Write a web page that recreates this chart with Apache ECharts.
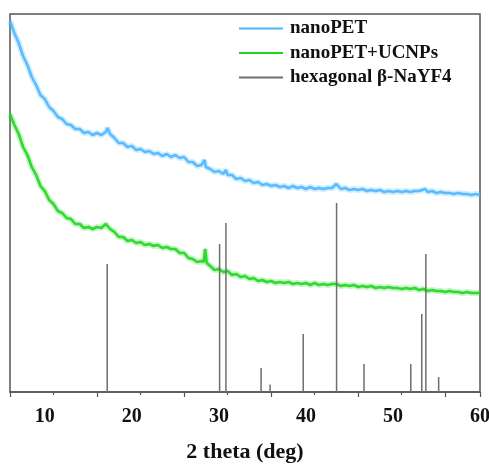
<!DOCTYPE html>
<html>
<head>
<meta charset="utf-8">
<script src="https://cdn.jsdelivr.net/npm/echarts@6/dist/echarts.min.js"></script>
<style>
  html, body { margin: 0; padding: 0; background: #fff; }
  #chart { width: 489px; height: 465px; }
</style>
</head>
<body>
<div id="chart"></div>
<script>
// XRD patterns (2θ in degrees, intensity in arbitrary units, curves offset vertically)
const seriesNames = ['nanoPET', 'nanoPET+UCNPs', 'hexagonal β-NaYF4'];

const nanoPET = [
  [6.0, 371], [6.5, 359], [7.0, 349], [7.5, 336], [8.0, 327], [8.5, 315], [9.0, 307], [9.5, 297],
  [10.0, 293], [10.5, 285], [11.0, 281], [11.5, 275], [12.0, 273], [12.5, 268], [13.0, 267], [13.5, 263],
  [14.0, 263], [14.5, 259], [15.0, 260], [15.5, 257], [16.0, 259], [16.5, 257], [17.0, 260], [17.2, 264],
  [17.5, 258], [18.0, 254], [18.5, 249], [19.0, 249], [19.5, 245], [20.0, 246], [20.5, 242], [21.0, 243],
  [21.5, 240], [22.0, 241], [22.5, 238], [23.0, 239], [23.5, 236], [24.0, 238], [24.5, 235], [25.0, 237],
  [25.5, 234], [26.0, 235], [26.5, 230], [27.0, 230], [27.5, 226], [28.0, 227], [28.2, 226], [28.35, 232],
  [28.5, 225], [29.0, 223], [29.5, 220], [30.0, 221], [30.5, 218], [30.8, 222], [31.0, 217], [31.5, 217],
  [32.0, 213], [32.5, 214], [33.0, 211], [33.5, 212], [34.0, 209], [34.5, 210], [35.0, 207], [35.5, 208],
  [36.0, 206], [36.5, 207], [37.0, 205], [37.5, 206], [38.0, 204], [38.5, 206], [39.0, 204], [39.5, 205],
  [40.0, 203], [40.5, 205], [41.0, 203], [41.5, 204], [42.0, 203], [42.5, 204], [43.0, 204], [43.5, 208],
  [44.0, 203], [44.5, 204], [45.0, 202], [45.5, 203], [46.0, 202], [46.5, 203], [47.0, 201], [47.5, 202],
  [48.0, 201], [48.5, 202], [49.0, 200], [49.5, 201], [50.0, 200], [50.5, 201], [51.0, 200], [51.5, 201],
  [52.0, 200], [52.5, 201], [53.0, 201], [53.7, 203], [54.0, 200], [54.5, 201], [55.0, 199], [55.5, 200],
  [56.0, 199], [56.5, 199], [57.0, 198], [57.5, 199], [58.0, 198], [58.5, 198], [59.0, 197], [59.5, 198],
  [60.0, 197]
];

const nanoPETUCNPs = [
  [6.0, 278], [6.5, 267], [7.0, 258], [7.5, 245], [8.0, 237], [8.5, 225], [9.0, 217], [9.5, 206],
  [10.0, 201], [10.5, 192], [11.0, 188], [11.5, 181], [12.0, 179], [12.5, 174], [13.0, 173], [13.5, 168],
  [14.0, 168], [14.5, 164], [15.0, 165], [15.5, 163], [16.0, 165], [16.5, 164], [17.0, 168], [17.5, 163],
  [18.0, 160], [18.5, 155], [19.0, 155], [19.5, 151], [20.0, 152], [20.5, 149], [21.0, 150], [21.5, 147],
  [22.0, 148], [22.5, 146], [23.0, 147], [23.5, 144], [24.0, 145], [24.5, 143], [25.0, 143], [25.5, 139],
  [26.0, 139], [26.5, 134], [27.0, 133], [27.5, 130], [28.0, 131], [28.25, 130], [28.43, 143], [28.6, 129],
  [29.0, 126], [29.5, 122], [30.0, 123], [30.5, 120], [31.0, 121], [31.5, 117], [32.0, 118], [32.5, 115],
  [33.0, 116], [33.5, 113], [34.0, 114], [34.5, 111], [35.0, 112], [35.5, 110], [36.0, 111], [36.5, 109],
  [37.0, 110], [37.5, 109], [38.0, 110], [38.5, 108], [39.0, 109], [39.5, 108], [40.0, 109], [40.5, 107],
  [41.0, 109], [41.5, 107], [42.0, 108], [42.5, 107], [43.0, 108], [43.5, 108], [44.0, 106], [44.5, 107],
  [45.0, 106], [45.5, 107], [46.0, 105], [46.5, 106], [47.0, 105], [47.5, 106], [48.0, 104], [48.5, 105],
  [49.0, 104], [49.5, 105], [50.0, 104], [50.5, 104], [51.0, 103], [51.5, 104], [52.0, 103], [52.5, 104],
  [53.0, 102], [53.5, 103], [54.0, 101], [54.5, 102], [55.0, 101], [55.5, 101], [56.0, 100], [56.5, 101],
  [57.0, 100], [57.5, 100], [58.0, 99], [58.5, 100], [59.0, 99], [59.5, 99], [60.0, 99]
];

// Reference stick pattern for hexagonal β-NaYF4
const refPositions = [17.17, 30.08, 30.81, 34.85, 35.88, 39.69, 43.52, 46.67, 52.05, 53.31, 53.78, 55.25];
const refHeights   = [128, 148, 169, 24, 7.5, 58, 189, 28, 28, 78, 138, 15];

const xTicks = [10, 20, 30, 40, 50, 60];

const COLORS = ['#4db6ff', '#1ed61e', '#6e6e6e'];
const FONT = 'Liberation Serif';

const sticks = refPositions.map((p, i) => [p, refHeights[i]]);

const chart = echarts.init(document.getElementById('chart'), null, { renderer: 'canvas' });

// each pattern: a soft wide band under a solid core line
function curve(name, data, color) {
  return [
    {
      name: name, type: 'line', data: data, showSymbol: false, silent: true,
      lineStyle: { color: color, width: 6, opacity: 0.25 }, itemStyle: { color: color }, z: 2
    },
    {
      name: name, type: 'line', data: data, showSymbol: false, silent: true,
      lineStyle: { color: color, width: 2.6, opacity: 0.9 }, itemStyle: { color: color }, z: 3
    }
  ];
}

chart.setOption({
  animation: false,
  backgroundColor: '#fff',
  grid: {
    left: 10, right: 9, top: 14, bottom: 73,
    outerBoundsMode: 'none', containLabel: false,
    show: true, borderColor: '#555', borderWidth: 1.5, backgroundColor: 'transparent'
  },
  legend: {
    left: 239, top: 19, orient: 'vertical', padding: 0,
    itemWidth: 44, itemHeight: 2, itemGap: 5.5,
    icon: 'rect',
    textStyle: { fontFamily: FONT, fontWeight: 'bold', fontSize: 19, color: '#111', padding: [0, 0, 0, 2] },
    data: seriesNames.map((n, i) => ({ name: n, itemStyle: { color: COLORS[i] } }))
  },
  xAxis: {
    type: 'value', min: 6, max: 60, interval: 10,
    name: '2 theta (deg)', nameLocation: 'middle', nameGap: 49,
    nameTextStyle: { fontFamily: FONT, fontWeight: 'bold', fontSize: 22, color: '#111' },
    axisLine: { lineStyle: { color: '#555', width: 1.5 } },
    axisTick: { show: true, inside: false, length: 5, lineStyle: { color: '#555', width: 1.2 } },
    minorTick: { show: true, splitNumber: 2, length: 3, lineStyle: { color: '#555', width: 1.2 } },
    axisLabel: {
      fontFamily: FONT, fontWeight: 'bold', fontSize: 20, color: '#111', margin: 15,
      customValues: xTicks
    },
    splitLine: { show: false }
  },
  yAxis: {
    type: 'value', min: 0, max: 378, show: false, splitLine: { show: false }
  },
  series: [
    ...curve(seriesNames[0], nanoPET, COLORS[0]),
    ...curve(seriesNames[1], nanoPETUCNPs, COLORS[1]),
    {
      name: seriesNames[2], type: 'custom', silent: true, z: 4,
      itemStyle: { color: COLORS[2] },
      encode: { x: 0, y: 1 },
      data: sticks,
      renderItem: function (params, api) {
        const base = api.coord([api.value(0), 0]);
        const top = api.coord([api.value(0), api.value(1)]);
        return {
          type: 'line',
          shape: { x1: base[0], y1: base[1], x2: top[0], y2: top[1] },
          style: { stroke: COLORS[2], lineWidth: 1.5 }
        };
      }
    }
  ]
});
</script>
</body>
</html>
